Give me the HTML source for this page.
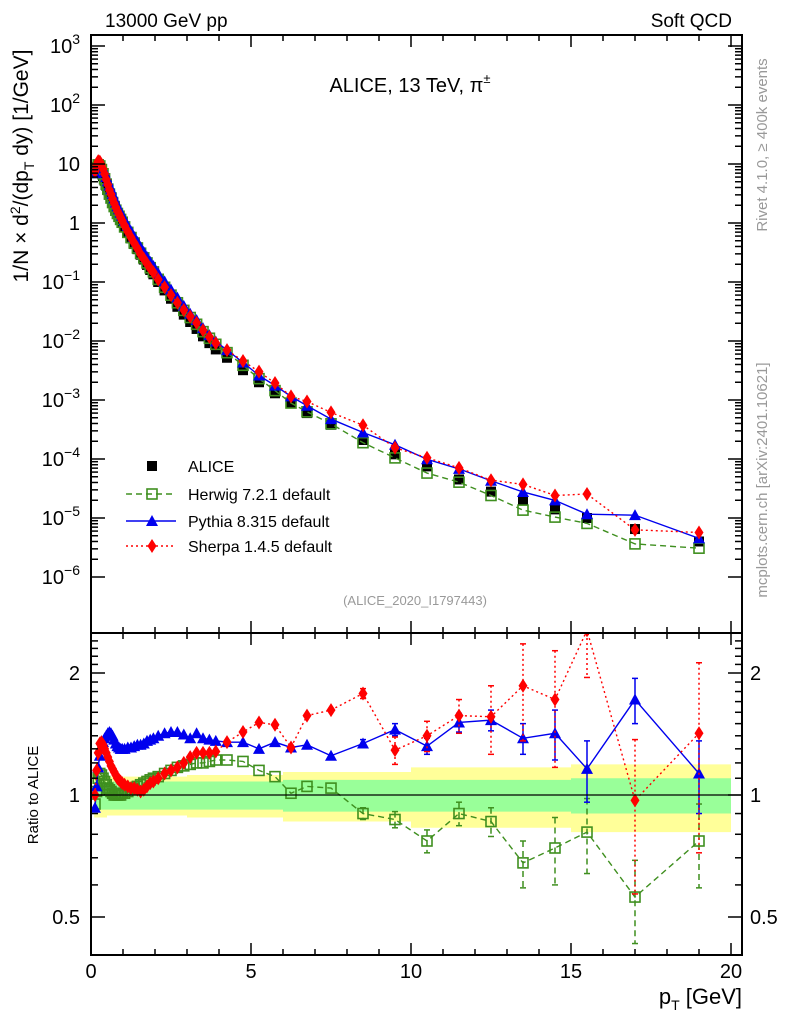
<!DOCTYPE html>
<html><head><meta charset="utf-8"><style>
html,body{margin:0;padding:0;background:#fff;}
svg{display:block;font-family:"Liberation Sans",sans-serif;}
</style></head><body>
<svg id="c" width="786" height="1024" viewBox="0 0 786 1024" xmlns="http://www.w3.org/2000/svg">
<defs>
<clipPath id="clipMain"><rect x="91" y="35" width="651" height="598"/></clipPath>
<clipPath id="clipRatio"><rect x="91" y="633" width="651" height="322"/></clipPath>
</defs>
<g id="bands" clip-path="url(#clipRatio)"></g>
<g id="gridlines"></g>
<g id="series"></g>
<g id="axes"></g>
<text x="105" y="27" font-size="19">13000 GeV pp</text>
<text x="732" y="27" font-size="19" text-anchor="end">Soft QCD</text>
<text x="410" y="92" font-size="20" text-anchor="middle">ALICE, 13 TeV, π<tspan font-size="13" dy="-9">±</tspan></text>
<text x="415" y="605" font-size="13" fill="#999" text-anchor="middle">(ALICE_2020_I1797443)</text>
<text transform="translate(767,145) rotate(-90)" font-size="15" fill="#999" text-anchor="middle">Rivet 4.1.0, ≥ 400k events</text>
<text transform="translate(767,480) rotate(-90)" font-size="15" fill="#999" text-anchor="middle">mcplots.cern.ch [arXiv:2401.10621]</text>
<text transform="translate(28,166) rotate(-90)" font-size="21" text-anchor="middle">1/N × d<tspan font-size="14" dy="-8">2</tspan><tspan dy="8">/(dp</tspan><tspan font-size="14" dy="6">T</tspan><tspan dy="-6"> dy) [1/GeV]</tspan></text>
<text transform="translate(38,795) rotate(-90)" font-size="15" text-anchor="middle">Ratio to ALICE</text>
<text x="742" y="1004" font-size="22" text-anchor="end">p<tspan font-size="14" dy="6">T</tspan><tspan dy="-6"> [GeV]</tspan></text>
<g id="legend"></g>
</svg>
<script>
const pT = [0.125,0.175,0.225,0.275,0.325,0.375,0.425,0.475,0.525,0.575,0.625,0.675,0.725,0.775,0.825,0.875,0.925,0.975,1.05,1.15,1.25,1.35,1.45,1.55,1.65,1.75,1.85,1.95,2.1,2.3,2.5,2.7,2.9,3.1,3.3,3.5,3.7,3.9,4.25,4.75,5.25,5.75,6.25,6.75,7.5,8.5,9.5,10.5,11.5,12.5,13.5,14.5,15.5,17,19];
const alice = [7.5,8.5,8.8,8.2,7.2,6.2,5.2,4.3,3.6,3.0,2.6,2.2,1.9,1.65,1.45,1.3,1.15,1.02,0.85,0.68,0.55,0.44,0.36,0.29,0.24,0.195,0.16,0.135,0.1,0.072,0.052,0.038,0.028,0.021,0.016,0.012,0.0092,0.0072,0.0052,0.0032,0.002,0.0013,0.00088,0.0006,0.00038,0.00021,0.00012,7.5e-5,4.5e-5,2.8e-5,2e-5,1.4e-5,1e-5,6.5e-6,4e-6];
const herwigRatio = [0.95,1.02,1.1,1.13,1.12,1.1,1.08,1.06,1.04,1.03,1.02,1.01,1.0,1.0,1.0,1.0,1.0,1.01,1.01,1.02,1.03,1.04,1.05,1.06,1.07,1.08,1.09,1.1,1.11,1.13,1.15,1.17,1.18,1.19,1.2,1.2,1.21,1.22,1.22,1.21,1.15,1.11,1.01,1.05,1.04,0.9,0.87,0.77,0.9,0.86,0.68,0.74,0.81,0.56,0.77];
const pythiaRatio = [0.93,1.05,1.17,1.25,1.3,1.35,1.38,1.4,1.42,1.43,1.42,1.4,1.37,1.34,1.32,1.31,1.3,1.3,1.3,1.31,1.31,1.32,1.33,1.33,1.34,1.36,1.37,1.38,1.4,1.42,1.43,1.43,1.41,1.38,1.42,1.38,1.37,1.36,1.35,1.35,1.3,1.35,1.31,1.33,1.25,1.34,1.45,1.32,1.51,1.53,1.38,1.42,1.16,1.72,1.13];
const sherpaRatio = [1.0,1.15,1.27,1.34,1.35,1.33,1.3,1.27,1.24,1.21,1.18,1.16,1.14,1.12,1.1,1.09,1.08,1.07,1.06,1.05,1.04,1.04,1.03,1.02,1.03,1.05,1.07,1.08,1.1,1.13,1.15,1.17,1.2,1.24,1.27,1.27,1.27,1.28,1.35,1.43,1.51,1.49,1.31,1.57,1.62,1.78,1.29,1.4,1.57,1.56,1.86,1.72,2.55,0.97,1.42];
const errPt = [8.5,9.5,10.5,11.5,12.5,13.5,14.5,15.5,17,19];
const herwigErr = [0.03,0.04,0.05,0.06,0.07,0.09,0.14,0.17,0.13,0.18];
const pythiaErr = [0.03,0.05,0.06,0.08,0.09,0.12,0.2,0.2,0.22,0.23];
const sherpaErr = [0.05,0.1,0.12,0.15,0.3,0.5,0.55,0.6,0.4,0.7];
const bandPt = [0.1,0.5,1,3,6,10,15,20];
const bandTot = [0.12,0.11,0.11,0.12,0.14,0.17,0.19,0.2];
const bandStat = [0.08,0.08,0.08,0.08,0.09,0.09,0.1,0.1];
const xTicks = [0,5,10,15,20];
const yMainDecades = [-6,-5,-4,-3,-2,-1,0,1,2,3];
const yRatioTicks = [0.5,1,2];

const NS="http://www.w3.org/2000/svg";
const X0=91,X1=742;
const sx=v=>91+v*32;
const syM=v=>223-Math.log10(v)*59;
const syR=v=>795-Math.log2(v)*122;
function mk(tag,attrs,parent){const e=document.createElementNS(NS,tag);for(const k in attrs)e.setAttribute(k,attrs[k]);parent.appendChild(e);return e;}
const svg=document.getElementById('c');
const axes=document.getElementById('axes');
const series=document.getElementById('series');
const bands=document.getElementById('bands');

function bandPoly(arr,color,name){
  let up=[],dn=[];
  for(let i=0;i<bandPt.length-1;i++){
    const xa=sx(bandPt[i]),xb=sx(bandPt[i+1]);
    up.push(xa+','+syR(1+arr[i]),xb+','+syR(1+arr[i]));
    dn.push(xa+','+syR(1-arr[i]),xb+','+syR(1-arr[i]));
  }
  const p=mk('polygon',{points:up.concat(dn.reverse()).join(' '),fill:color},bands);
  
  
}
bandPoly(bandTot,'#ffff99','total-uncertainty-band');
bandPoly(bandStat,'#99ff99','stat-uncertainty-band');
const one=mk('line',{x1:X0,x2:X1,y1:syR(1),y2:syR(1),stroke:'#000','stroke-width':1.2},axes);



const fm=mk('rect',{x:X0,y:35,width:X1-X0,height:598,fill:'none',stroke:'#000','stroke-width':2},axes);


const fr=mk('rect',{x:X0,y:633,width:X1-X0,height:322,fill:'none',stroke:'#000','stroke-width':2},axes);



for(let v=0;v<=20;v+=1){
  const major=v%5===0, L=major?12:6, x=sx(v);
  mk('line',{x1:x,x2:x,y1:633,y2:633-L,stroke:'#000','stroke-width':1.5},axes);
  mk('line',{x1:x,x2:x,y1:35,y2:35+L,stroke:'#000','stroke-width':1.5},axes);
  mk('line',{x1:x,x2:x,y1:955,y2:955-L,stroke:'#000','stroke-width':1.5},axes);
  mk('line',{x1:x,x2:x,y1:633,y2:633+L,stroke:'#000','stroke-width':1.5},axes);
}
xTicks.forEach(v=>{
  const t=mk('text',{x:sx(v),y:978,'font-size':20,'text-anchor':'middle'},axes);
  t.textContent=v;
  
  
});
yMainDecades.forEach(d=>{
  for(let m=1;m<10;m++){
    const y=syM(m*Math.pow(10,d));
    if(y<35||y>633)continue;
    const L=m===1?14:7;
    mk('line',{x1:X0,x2:X0+L,y1:y,y2:y,stroke:'#000','stroke-width':1.5},axes);
    mk('line',{x1:X1,x2:X1-L,y1:y,y2:y,stroke:'#000','stroke-width':1.5},axes);
  }
  const y=syM(Math.pow(10,d));
  const t=mk('text',{x:80,y:y+7,'font-size':20,'text-anchor':'end'},axes);
  if(d===0)t.textContent='1';
  else if(d===1)t.textContent='10';
  else{t.textContent='10';const s=mk('tspan',{dy:-9,'font-size':14},t);s.textContent=String(d).replace('-','−');}
  
  
});
for(let v=0.4;v<=2.5;v+=0.1){
  const vv=Math.round(v*10)/10;
  const y=syR(vv); if(y<633||y>955)continue;
  const major=[0.5,1,2].includes(vv);
  const L=major?14:7;
  mk('line',{x1:X0,x2:X0+L,y1:y,y2:y,stroke:'#000','stroke-width':1.5},axes);
  mk('line',{x1:X1,x2:X1-L,y1:y,y2:y,stroke:'#000','stroke-width':1.5},axes);
}
yRatioTicks.forEach(v=>{
  const y=syR(v);
  const a=mk('text',{x:80,y:y+7,'font-size':20,'text-anchor':'end'},axes);a.textContent=v;
  
  
  const b=mk('text',{x:750,y:y+7,'font-size':20},axes);b.textContent=v;
  
  
});

function marker(g,type,x,y,col){
  if(type==='sq') return mk('rect',{x:x-5,y:y-5,width:10,height:10,fill:'#000'},g);
  if(type==='osq') return mk('rect',{x:x-5,y:y-5,width:10,height:10,fill:'none',stroke:col,'stroke-width':1.6},g);
  if(type==='tri') return mk('polygon',{points:`${x},${y-6} ${x-6},${y+5} ${x+6},${y+5}`,fill:col},g);
  if(type==='dia') return mk('polygon',{points:`${x},${y-7} ${x-4.5},${y} ${x},${y+7} ${x+4.5},${y}`,fill:col},g);
}
function drawSeries(name,ratio,err,col,dash,type,sw){
  const gm=mk('g',{'clip-path':'url(#clipMain)'},series);
  
  
  const gr=mk('g',{'clip-path':'url(#clipRatio)'},series);
  
  
  const pm=[],pr=[];
  pT.forEach((p,i)=>{pm.push(sx(p)+','+syM(alice[i]*ratio[i]));pr.push(sx(p)+','+syR(ratio[i]));});
  const a={fill:'none',stroke:col,'stroke-width':sw};if(dash)a['stroke-dasharray']=dash;
  mk('polyline',Object.assign({points:pm.join(' ')},a),gm);
  mk('polyline',Object.assign({points:pr.join(' ')},a),gr);
  if(err){
    errPt.forEach((p,j)=>{
      const i=pT.indexOf(p), r=ratio[i], x=sx(p);
      const ea={stroke:col,'stroke-width':1.5};if(dash)ea['stroke-dasharray']=dash;
      mk('line',Object.assign({x1:x,x2:x,y1:syR(r+err[j]),y2:syR(Math.max(0.3,r-err[j]))},ea),gr);
      mk('line',{x1:x-3,x2:x+3,y1:syR(r+err[j]),y2:syR(r+err[j]),stroke:col,'stroke-width':1.5},gr);
      mk('line',{x1:x-3,x2:x+3,y1:syR(r-err[j]),y2:syR(r-err[j]),stroke:col,'stroke-width':1.5},gr);
    });
  }
  pT.forEach((p,i)=>{
    const m1=marker(gm,type,sx(p),syM(alice[i]*ratio[i]),col);
    
    
    const m2=marker(gr,type,sx(p),syR(ratio[i]),col);
    
    
  });
}
const ga=mk('g',{'clip-path':'url(#clipMain)'},series);


pT.forEach((p,i)=>{
  const m=marker(ga,'sq',sx(p),syM(alice[i]),'#000');
  
  
});
drawSeries('herwig',herwigRatio,herwigErr,'#3f8f1f','6,4','osq',1.4);
drawSeries('pythia',pythiaRatio,pythiaErr,'#0000ee',null,'tri',1.4);
drawSeries('sherpa',sherpaRatio,sherpaErr,'#ff0000','2,3','dia',1.4);

const lg=document.getElementById('legend');
const entries=[['ALICE','sq','#000',null,466],['Herwig 7.2.1 default','osq','#3f8f1f','6,4',494],['Pythia 8.315 default','tri','#0000ee',null,521],['Sherpa 1.4.5 default','dia','#ff0000','2,3',546]];
entries.forEach(e=>{
  const g=mk('g',{},lg);
  
  
  if(e[1]!=='sq'){const a={x1:126,x2:176,y1:e[4],y2:e[4],stroke:e[2],'stroke-width':1.4};if(e[3])a['stroke-dasharray']=e[3];mk('line',a,g);}
  marker(g,e[1],152,e[4],e[2]);
  const t=mk('text',{x:188,y:e[4]+6,'font-size':16},g);t.textContent=e[0];
});
</script>
</body></html>
